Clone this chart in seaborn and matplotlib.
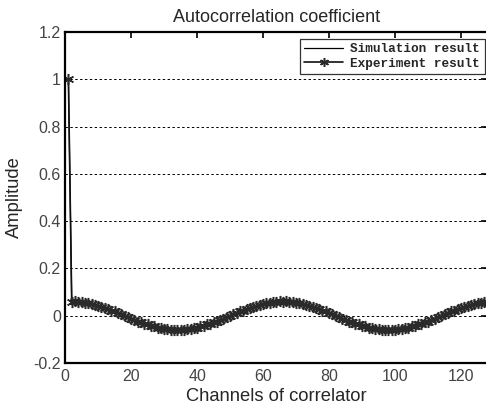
import numpy as np
import pandas as pd
import matplotlib.pyplot as plt
import seaborn as sns

channels = list(range(1, 129))

simulation = [
    1.000,
    0.060, 0.060, 0.059, 0.057, 0.055, 0.053, 0.050, 0.046, 0.042, 0.038,
    0.033, 0.028, 0.023, 0.017, 0.012, 0.006, 0.000, -0.006, -0.012, -0.017,
    -0.023, -0.028, -0.033, -0.038, -0.042, -0.046, -0.050, -0.053, -0.055, -0.057,
    -0.059, -0.060, -0.060, -0.060, -0.059, -0.057, -0.055, -0.053, -0.050, -0.046,
    -0.042, -0.038, -0.033, -0.028, -0.023, -0.017, -0.012, -0.006, 0.000, 0.006,
    0.012, 0.017, 0.023, 0.028, 0.033, 0.038, 0.042, 0.046, 0.050, 0.053,
    0.055, 0.057, 0.059, 0.060, 0.060, 0.060, 0.059, 0.057, 0.055, 0.053,
    0.050, 0.046, 0.042, 0.038, 0.033, 0.028, 0.023, 0.017, 0.012, 0.006,
    0.000, -0.006, -0.012, -0.017, -0.023, -0.028, -0.033, -0.038, -0.042, -0.046,
    -0.050, -0.053, -0.055, -0.057, -0.059, -0.060, -0.060, -0.060, -0.059, -0.057,
    -0.055, -0.053, -0.050, -0.046, -0.042, -0.038, -0.033, -0.028, -0.023, -0.017,
    -0.012, -0.006, 0.000, 0.006, 0.012, 0.017, 0.023, 0.028, 0.033, 0.038,
    0.042, 0.046, 0.050, 0.053, 0.055, 0.057, 0.059,
]

experiment = [
    1.000,
    0.058, 0.061, 0.057, 0.058, 0.053, 0.054, 0.048, 0.047, 0.040, 0.039,
    0.031, 0.029, 0.021, 0.018, 0.010, 0.007, -0.002, -0.005, -0.014, -0.016,
    -0.025, -0.027, -0.035, -0.037, -0.044, -0.045, -0.052, -0.052, -0.057, -0.056,
    -0.061, -0.059, -0.062, -0.059, -0.061, -0.056, -0.057, -0.052, -0.052, -0.045,
    -0.044, -0.037, -0.035, -0.027, -0.025, -0.016, -0.014, -0.005, -0.002, 0.007,
    0.010, 0.018, 0.021, 0.029, 0.031, 0.039, 0.040, 0.047, 0.048, 0.054,
    0.053, 0.058, 0.057, 0.061, 0.058, 0.061, 0.057, 0.058, 0.053, 0.054,
    0.048, 0.047, 0.040, 0.039, 0.031, 0.029, 0.021, 0.018, 0.010, 0.007,
    -0.002, -0.005, -0.014, -0.016, -0.025, -0.027, -0.035, -0.037, -0.044, -0.045,
    -0.052, -0.052, -0.057, -0.056, -0.061, -0.059, -0.062, -0.059, -0.061, -0.056,
    -0.057, -0.052, -0.052, -0.045, -0.044, -0.037, -0.035, -0.027, -0.025, -0.016,
    -0.014, -0.005, -0.002, 0.007, 0.010, 0.018, 0.021, 0.029, 0.031, 0.039,
    0.040, 0.047, 0.048, 0.054, 0.053, 0.058, 0.057,
]

df = pd.DataFrame({"channel": channels, "Simulation result": simulation,
                   "Experiment result": experiment})

sns.set_style("white")
plt.rcParams["font.family"] = ["Liberation Sans", "DejaVu Sans"]

fig = plt.figure(figsize=(4.86, 4.09), dpi=100)
ax = fig.add_axes([0.134, 0.1125, 0.869, 0.809])

sns.lineplot(data=df, x="channel", y="Simulation result", ax=ax, color="k",
             lw=0.9, label="Simulation result")
sns.lineplot(data=df, x="channel", y="Experiment result", ax=ax, color="#111111",
             lw=1.2, marker=(6, 2, 0), markersize=8, markeredgecolor="#2a2a2a",
             markeredgewidth=1.1, label="Experiment result")

ax.set_xlim(0, 128)
ax.set_ylim(-0.2, 1.2)
ax.set_xticks([0, 20, 40, 60, 80, 100, 120])
ax.set_yticks([-0.2, 0, 0.2, 0.4, 0.6, 0.8, 1.0, 1.2])
ax.set_yticklabels(["-0.2", "0", "0.2", "0.4", "0.6", "0.8", "1", "1.2"])
ax.yaxis.grid(True, linestyle=(0, (2.5, 2.5)), color="k", lw=0.7)
ax.xaxis.grid(False)
ax.tick_params(direction="in", length=4, top=True, right=True, labelsize=11.5,
               colors="k", labelcolor="#444444", width=1.2)
ax.tick_params(axis="x", pad=4)
ax.tick_params(axis="y", pad=3)
for s in ax.spines.values():
    s.set_color("k")
    s.set_linewidth(1.6)

ax.set_title("Autocorrelation coefficient", fontsize=13, pad=7)
ax.set_xlabel("Channels of correlator", fontsize=13.2, labelpad=3)
ax.set_ylabel("Amplitude", fontsize=13.2)
ax.yaxis.set_label_coords(-0.1, 0.5)

leg = ax.legend(loc="upper right", bbox_to_anchor=(0.993, 0.98),
                prop={"family": "Liberation Mono", "weight": "bold", "size": 9.2},
                frameon=True, fancybox=False, edgecolor="k", borderaxespad=0,
                handlelength=3.0, handletextpad=0.6, borderpad=0.35,
                labelspacing=0.2, markerscale=0.8)
leg.get_frame().set_linewidth(0.9)

fig.savefig("out.png", dpi=100)
